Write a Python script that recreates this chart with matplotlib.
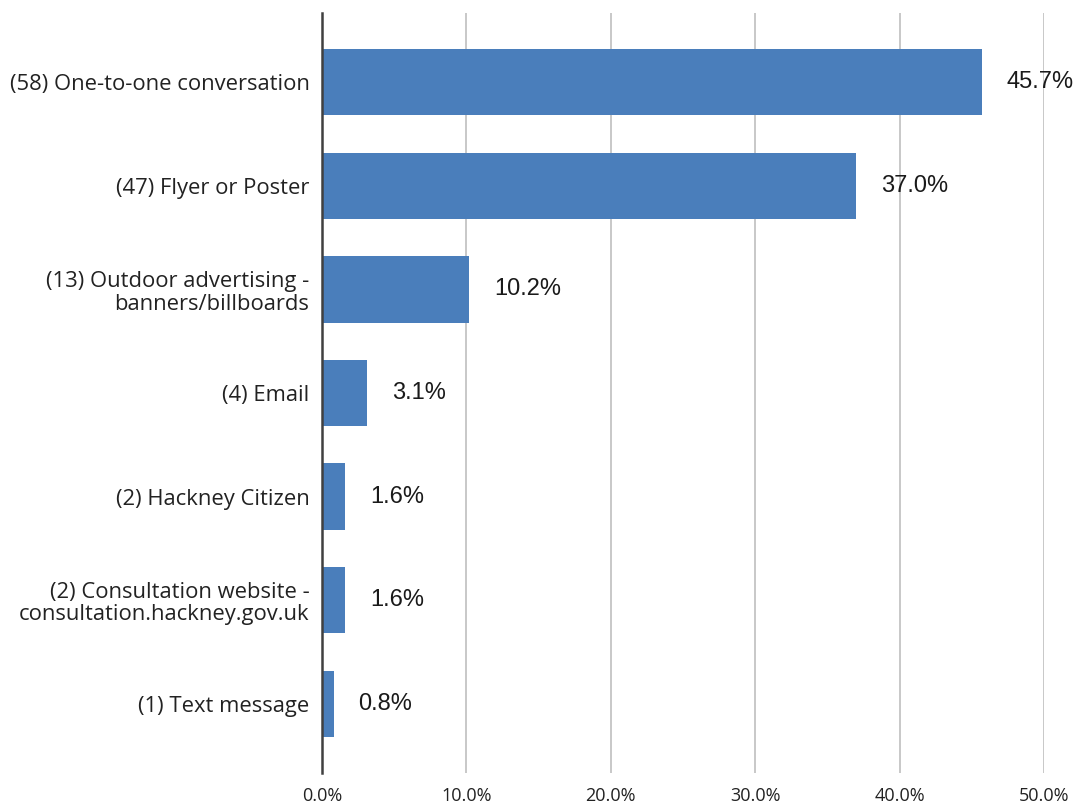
import matplotlib
matplotlib.use('Agg')
import matplotlib.pyplot as plt
from matplotlib.ticker import FuncFormatter

categories = [
    '(58) One-to-one conversation',
    '(47) Flyer or Poster',
    '(13) Outdoor advertising -\nbanners/billboards',
    '(4) Email',
    '(2) Hackney Citizen',
    '(2) Consultation website -\nconsultation.hackney.gov.uk',
    '(1) Text message',
]
values = [45.7, 37.0, 10.2, 3.1, 1.6, 1.6, 0.8]
x_ticks = [0, 10, 20, 30, 40, 50]

fig = plt.figure(figsize=(10.78, 8.06), dpi=100)
ax = fig.add_axes([0.2987, 0.0409, 0.6698, 0.943])

pos = list(range(len(categories)))
ax.barh(pos, values, height=0.64, color='#4a7ebb', zorder=3)

for p, v in zip(pos, values):
    ax.annotate(f'{v:.1f}%', xy=(v, p), xytext=(18, 0), textcoords='offset points',
                va='center', ha='left', fontsize=17, family='Liberation Sans',
                color='#1a1a1a', zorder=4)

ax.set_xlim(0, 50)
ax.set_ylim(6.67, -0.67)
ax.set_xticks(x_ticks)
ax.xaxis.set_major_formatter(FuncFormatter(lambda x, _: f'{x:.1f}%'))
ax.set_yticks(pos)
ax.set_yticklabels(categories, fontsize=15.8, family='Open Sans', color='#222222',
                   linespacing=1.1)
for lbl in ax.get_xticklabels():
    lbl.set_fontsize(13)
    lbl.set_family('Open Sans')
    lbl.set_color('#222222')

ax.tick_params(axis='both', length=0)
ax.tick_params(axis='y', pad=9)
ax.tick_params(axis='x', pad=10)

ax.grid(axis='x', color='#c4c4c4', linewidth=1.3, zorder=0)
for s in ['top', 'right', 'bottom']:
    ax.spines[s].set_visible(False)
ax.spines['left'].set_color('#404040')
ax.spines['left'].set_linewidth(1.8)
ax.spines['left'].set_zorder(5)

plt.savefig('out.png', dpi=100)
